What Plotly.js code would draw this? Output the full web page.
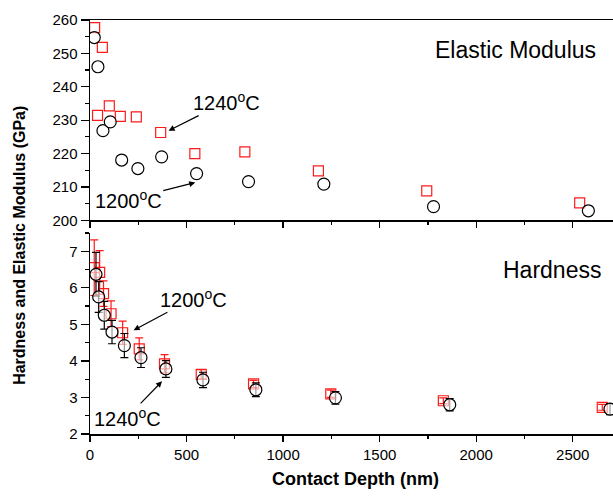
<!DOCTYPE html>
<html>
<head>
<meta charset="utf-8">
<script src="https://cdn.plot.ly/plotly-3.0.1.min.js"></script>
<style>
html,body{margin:0;padding:0;overflow:hidden;background:#fff;width:613px;height:498px;}
#chart{width:640px;height:498px;}
</style>
</head>
<body>
<div id="chart"></div>
<script>
// Elastic modulus (GPa) vs contact depth (nm)
const modDepth1240 = [24, 64, 39, 100, 157, 240, 366, 543, 802, 1183, 1744, 2536];
const mod1240      = [257.7, 251.8, 231.4, 234.3, 231.1, 231.0, 226.3, 220.0, 220.5, 214.8, 208.8, 205.2];
const modDepth1200 = [22, 41, 67, 105, 164, 248, 371, 552, 821, 1211, 1779, 2581];
const mod1200      = [254.75, 246.0, 226.85, 229.5, 218.05, 215.5, 219.0, 214.0, 211.6, 210.85, 204.1, 202.85];

// Hardness (GPa) vs contact depth (nm)
const hardDepth1240 = [22, 50, 70, 109, 169, 255, 386, 576, 847, 1247, 1830, 2653];
const hard1240      = [6.55, 6.42, 5.84, 5.29, 4.77, 4.33, 3.92, 3.63, 3.37, 3.10, 2.91, 2.73];
const hardErr1240   = [0.76, 0.60, 0.35, 0.35, 0.32, 0.30, 0.25, 0.13, 0.10, 0.10, 0.08, 0.08];
const hardDepth1200 = [31, 45, 74, 114, 178, 264, 393, 585, 859, 1271, 1863, 2693];
const hard1200      = [6.37, 5.75, 5.25, 4.79, 4.42, 4.09, 3.78, 3.48, 3.21, 2.99, 2.80, 2.68];
const hardErr1200   = [0.60, 0.42, 0.38, 0.32, 0.33, 0.27, 0.23, 0.21, 0.19, 0.17, 0.17, 0.15];

const xTitle = "Contact Depth (nm)";
const yTitle = "Hardness and Elastic Modulus (GPa)";
const label1240 = "1240<sup>o</sup>C";
const label1200 = "1200<sup>o</sup>C";

const FONT = "Arial, 'Liberation Sans', sans-serif";
const sqMarker = {symbol: "square-open", size: 10, color: "#ff1a1a", line: {width: 1.2, color: "#ff1a1a"}};
const ciMarker = {symbol: "circle", size: 12, color: "rgba(255,255,255,0.6)", line: {width: 1.2, color: "#000"}};

const traces = [
  {x: modDepth1240, y: mod1240, xaxis: "x2", yaxis: "y2", mode: "markers", type: "scatter", name: "1240°C modulus", marker: sqMarker, cliponaxis: true},
  {x: modDepth1200, y: mod1200, xaxis: "x2", yaxis: "y2", mode: "markers", type: "scatter", name: "1200°C modulus", marker: ciMarker, cliponaxis: true},
  {x: hardDepth1240, y: hard1240, xaxis: "x", yaxis: "y", mode: "markers", type: "scatter", name: "1240°C hardness", marker: sqMarker,
   error_y: {type: "data", array: hardErr1240, visible: true, color: "#ff1a1a", thickness: 1.2, width: 4}, cliponaxis: true},
  {x: hardDepth1200, y: hard1200, xaxis: "x", yaxis: "y", mode: "markers", type: "scatter", name: "1200°C hardness", marker: ciMarker,
   error_y: {type: "data", array: hardErr1200, visible: true, color: "#000", thickness: 1.2, width: 4}, cliponaxis: true}
];

const XR = [0, 2750];
const axisCommon = {showline: true, linecolor: "#000", linewidth: 1.5, ticks: "outside", tickcolor: "#000", tickwidth: 1.2,
  ticklen: 6, showgrid: false, zeroline: false, tickfont: {family: FONT, size: 15, color: "#000"}};

const arrowStyle = {showarrow: true, arrowhead: 2, arrowsize: 1, arrowwidth: 1.2, arrowcolor: "#000", axref: "pixel", ayref: "pixel",
  font: {family: FONT, size: 20, color: "#000"}};

const layout = {
  width: 640, height: 498,
  margin: {l: 90, r: 19, t: 20, b: 64},
  paper_bgcolor: "#fff", plot_bgcolor: "#fff",
  showlegend: false,
  font: {family: FONT, color: "#000"},
  xaxis: Object.assign({}, axisCommon, {anchor: "y", range: XR, dtick: 500, tick0: 0,
    minor: {dtick: 250, ticks: "outside", ticklen: 3, tickcolor: "#000"},
    title: {text: "<b>" + xTitle + "</b>", font: {family: FONT, size: 18, color: "#000"}, standoff: 11}}),
  xaxis3: {overlaying: "x", anchor: "y", side: "top", range: XR, showline: true, linecolor: "#000", linewidth: 1.5,
    ticks: "inside", ticklen: 6, tickcolor: "#000", dtick: 500, tick0: 0, showticklabels: false, showgrid: false, zeroline: false,
    minor: {dtick: 250, ticks: "inside", ticklen: 3, tickcolor: "#000"}},
  yaxis: Object.assign({}, axisCommon, {domain: [0, 0.4855], anchor: "x", range: [2, 7.5], dtick: 1, tick0: 2, ticklen: 8,
    minor: {dtick: 0.5, ticks: "outside", ticklen: 4, tickcolor: "#000"}}),
  xaxis2: Object.assign({}, axisCommon, {anchor: "y2", range: XR, dtick: 500, tick0: 0, showticklabels: false, mirror: true,
    minor: {dtick: 250, ticks: "outside", ticklen: 3, tickcolor: "#000"}}),
  yaxis2: Object.assign({}, axisCommon, {domain: [0.5162, 1], anchor: "x2", range: [200, 260], dtick: 10, tick0: 200, ticklen: 8,
    minor: {dtick: 5, ticks: "outside", ticklen: 4, tickcolor: "#000"}}),
  annotations: [
    {xref: "paper", yref: "paper", x: -0.134, y: 0.4565, text: "<b>" + yTitle + "</b>", textangle: -90, showarrow: false,
     font: {family: FONT, size: 16, color: "#000"}, xanchor: "center", yanchor: "middle"},
    {xref: "x2", yref: "y2", x: 2202, y: 250.9, text: "Elastic Modulus", showarrow: false, font: {family: FONT, size: 23, color: "#000"}},
    {xref: "x", yref: "y", x: 2391, y: 6.48, text: "Hardness", showarrow: false, font: {family: FONT, size: 23, color: "#000"}},
    // top panel: labels with arrows pointing at the series
    Object.assign({xref: "x2", yref: "y2", x: 407, y: 226.85, ax: 58, ay: -29, text: label1240}, arrowStyle),
    Object.assign({xref: "x2", yref: "y2", x: 545, y: 211.3, ax: -67, ay: 17, text: label1200}, arrowStyle),
    // bottom panel
    Object.assign({xref: "x", yref: "y", x: 226, y: 4.84, ax: 60, ay: -32, text: label1200}, arrowStyle),
    Object.assign({xref: "x", yref: "y", x: 373, y: 3.44, ax: -35, ay: 36, text: label1240}, arrowStyle)
  ]
};

Plotly.newPlot("chart", traces, layout, {displayModeBar: false, staticPlot: true});
</script>
</body>
</html>
